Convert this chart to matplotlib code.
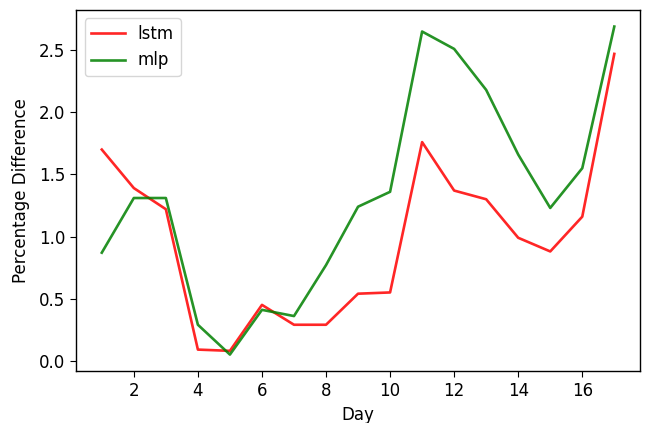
import matplotlib.pyplot as plt

# daily percentage difference per model
days = list(range(1, 18))
lstm = [1.70, 1.39, 1.22, 0.09, 0.08, 0.45, 0.29, 0.29, 0.54, 0.55,
        1.76, 1.37, 1.30, 0.99, 0.88, 1.16, 2.47]
mlp = [0.87, 1.31, 1.31, 0.29, 0.05, 0.41, 0.36, 0.77, 1.24, 1.36,
       2.65, 2.51, 2.18, 1.66, 1.23, 1.55, 2.69]

# reference looks like a scaled-up notebook figure
plt.rcParams["font.size"] = 12
plt.rcParams["lines.linewidth"] = 1.9
plt.rcParams["axes.linewidth"] = 1.0
plt.rcParams["xtick.major.size"] = 4.5
plt.rcParams["ytick.major.size"] = 4.5

fig = plt.figure(figsize=(6.51, 4.23), dpi=100)
ax = fig.add_axes([0.117, 0.123, 0.866, 0.853])
ax.plot(days, lstm, color="red", alpha=0.85, label="lstm")
ax.plot(days, mlp, color="green", alpha=0.85, label="mlp")

ax.set_xticks([2, 4, 6, 8, 10, 12, 14, 16])
ax.set_xlabel("Day")
ax.set_ylabel("Percentage Difference", labelpad=6)
ax.legend(loc="upper left")

plt.savefig("out.png", dpi=100)
plt.close()
